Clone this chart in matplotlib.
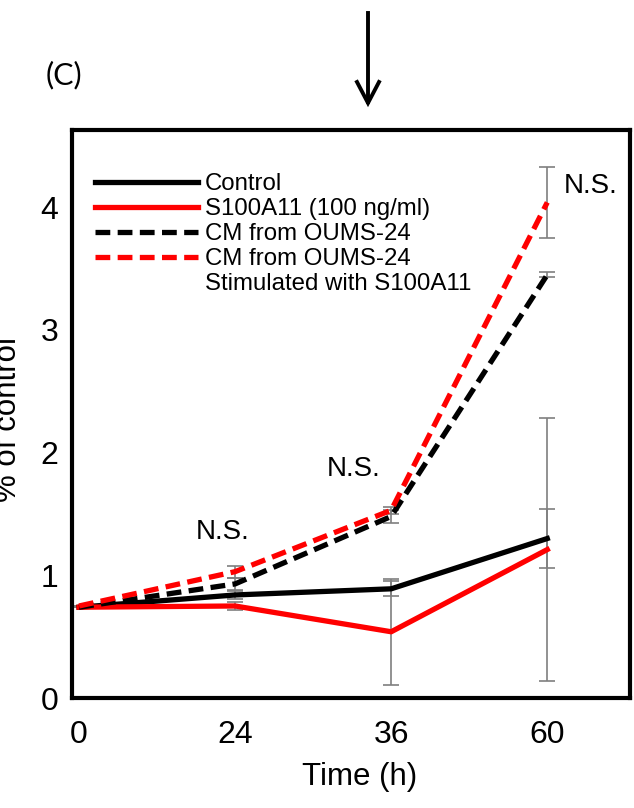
import numpy as np
import matplotlib.pyplot as plt
from matplotlib.lines import Line2D

plt.rcParams['font.family'] = ['Liberation Sans', 'DejaVu Sans']

# time points (h) shown as evenly spaced categories
time_labels = ['0', '24', '36', '60']

control = [0.74, 0.84, 0.89, 1.30]
control_err = [0.0, 0.03, 0.06, 0.24]
s100a11 = [0.74, 0.75, 0.54, 1.21]
s100a11_err = [0.0, 0.035, 0.43, 1.07]
cm_oums = [0.74, 0.93, 1.48, 3.45]
cm_oums_err = [0.0, 0.05, 0.05, 0.02]
cm_oums_stim = [0.75, 1.03, 1.53, 4.04]
cm_oums_stim_err = [0.0, 0.05, 0.03, 0.29]

ns_labels = ['N.S.', 'N.S.', 'N.S.']

W, H = 634, 808
fig = plt.figure(figsize=(W / 100, H / 100), dpi=100)
ax = fig.add_axes([72 / W, 1 - 698 / H, (630 - 72) / W, (698 - 130) / H])

x = np.arange(len(time_labels))
series = [
    (control, control_err, 'black', '-', 'Control'),
    (s100a11, s100a11_err, 'red', '-', 'S100A11 (100 ng/ml)'),
    (cm_oums, cm_oums_err, 'black', '--', 'CM from OUMS-24'),
    (cm_oums_stim, cm_oums_stim_err, 'red', '--', 'CM from OUMS-24'),
]

handles = []
for y, err, col, ls, lab in series:
    ax.errorbar(x, y, yerr=err, fmt='none', ecolor='#7f7f7f', elinewidth=1.2,
                capsize=5.5, capthick=1.2, zorder=2)
    if ls == '--':
        ln, = ax.plot(x, y, color=col, lw=3.8, dashes=(2.8, 1.4), zorder=3, label=lab)
    else:
        ln, = ax.plot(x, y, color=col, lw=3.8, zorder=3, label=lab)
    handles.append(ln)

# second line of last legend label, no handle
handles.append(Line2D([], [], color='none', label='Stimulated with S100A11'))

leg = ax.legend(handles=handles, loc='upper left', frameon=False,
                bbox_to_anchor=(95 / W, 1 - 173 / H), bbox_transform=fig.transFigure,
                fontsize=17.3, handlelength=4.3, handletextpad=0.28,
                labelspacing=0.13, borderpad=0, borderaxespad=0)

# significance labels
ax.text(0.92, 1.35, ns_labels[0], fontsize=20, ha='center', va='center')
ax.text(1.76, 1.87, ns_labels[1], fontsize=20, ha='center', va='center')
ax.text(3.28, 4.17, ns_labels[2], fontsize=20, ha='center', va='center')

ax.set_xlim(-0.045, 3.53)
ax.set_ylim(0, 4.63)
ax.set_xticks(x)
ax.set_xticklabels(time_labels)
ax.set_yticks([0, 1, 2, 3, 4])
ax.tick_params(length=0, labelsize=23)
ax.tick_params(axis='x', pad=16)
ax.tick_params(axis='y', pad=10)
for s in ax.spines.values():
    s.set_linewidth(3)

fig.text(360 / W, 1 - 777 / H, 'Time (h)', fontsize=22.5, ha='center', va='center')
fig.text(8 / W, 1 - 420 / H, '% of control', fontsize=22.5, rotation=90,
         ha='center', va='center')
fig.text(64 / W, 1 - 75 / H, '(C)', fontsize=22, family=['Lato', 'DejaVu Sans'],
         ha='center', va='center')

fig.add_artist(plt.Line2D([368 / W, 368 / W], [1 - 13 / H, 1 - 102 / H], color='black', lw=2.8))
fig.add_artist(plt.Line2D([357 / W, 368 / W, 379 / W],
                          [1 - 82 / H, 1 - 103 / H, 1 - 82 / H], color='black', lw=2.8,
                          solid_joinstyle='miter'))

fig.savefig('out.png', dpi=100)
